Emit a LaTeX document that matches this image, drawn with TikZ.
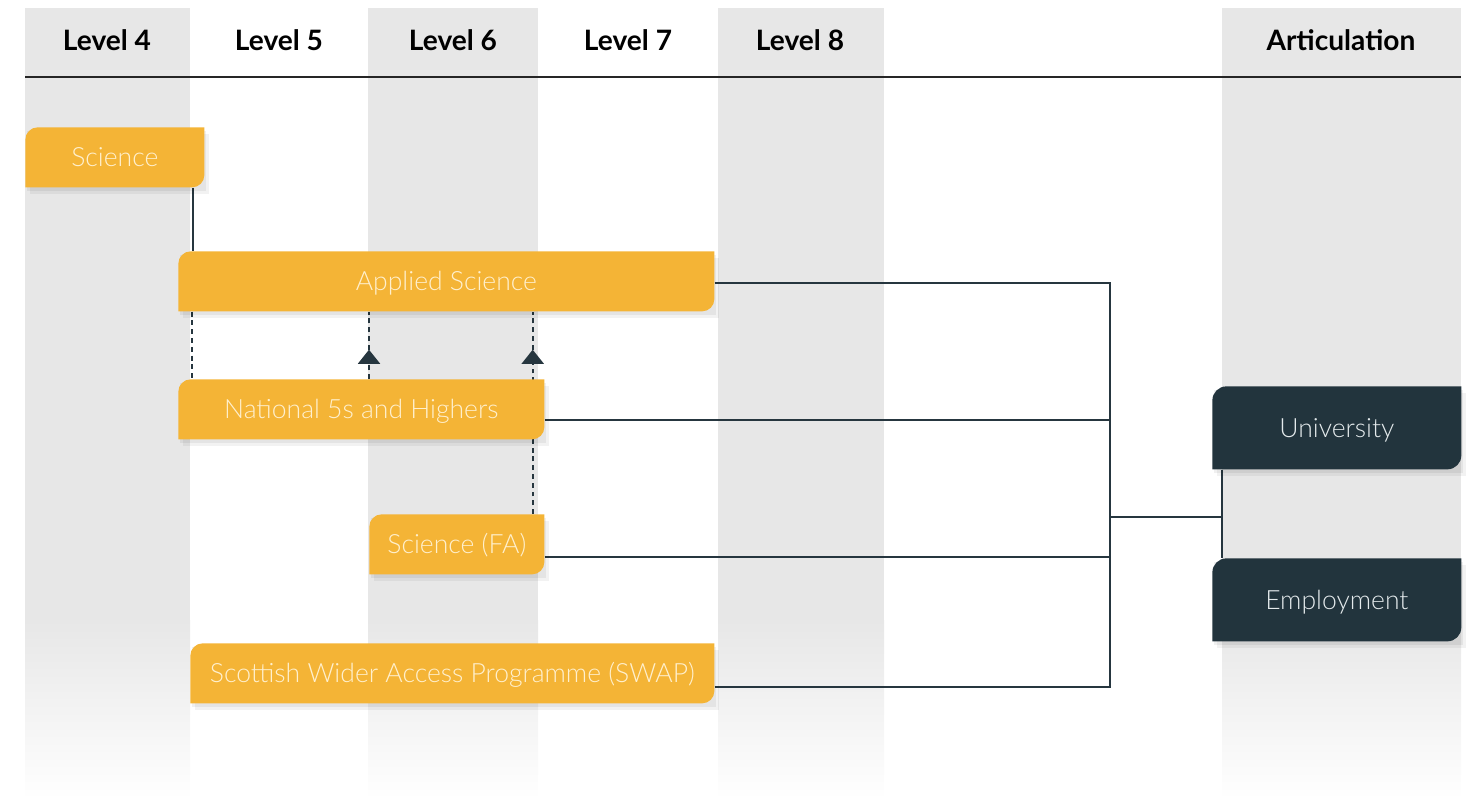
\documentclass[tikz,border=0pt]{standalone}
\usepackage{fontspec}
\setmainfont{Lato}
\newfontfamily\lightfont{Lato Light}
\usepackage{xcolor}
\usepackage{tikz}
\usetikzlibrary{calc, arrows.meta, backgrounds}

\definecolor{boxorange}{HTML}{F4B436}
\definecolor{boxtext}{HTML}{FFF0CE}
\definecolor{boxdark}{HTML}{22343D}
\definecolor{darktext}{HTML}{E4EAEC}
\definecolor{band}{HTML}{E7E7E7}
\definecolor{linkcol}{HTML}{26363F}

\newlength\pxu
\setlength\pxu{0.02cm}

\begin{document}
\begin{tikzpicture}[x=0.02cm, y=-0.02cm,
  head/.style={font=\fontsize{16}{19}\selectfont\bfseries, text=black},
  card/.style={anchor=north west, inner sep=0pt, minimum width=#1*\pxu,
    text=boxtext, font=\lightfont\fontsize{15.1}{18}\selectfont,
    text height=10.9pt, text depth=0pt,
    preaction={fill=black, fill opacity=0.05, transform canvas={xshift=2.5pt, yshift=-3.5pt}},
    preaction={fill=black, fill opacity=0.06, transform canvas={xshift=1.2pt, yshift=-1.8pt}},
    path picture={
      \fill[boxorange] (path picture bounding box.south west)
      -- ([yshift=-7pt]path picture bounding box.north west)
      arc[start angle=180, end angle=90, radius=7pt]
      -- (path picture bounding box.north east)
      -- ([yshift=7pt]path picture bounding box.south east)
      arc[start angle=0, end angle=-90, radius=7pt] -- cycle;}},
  card/.default=100,
  ybox/.style={card=#1, minimum height=60*\pxu},
  dbox/.style={card=#1, minimum height=83*\pxu, text=darktext,
    path picture={
      \fill[boxdark] (path picture bounding box.south west)
      -- ([yshift=-8pt]path picture bounding box.north west)
      arc[start angle=180, end angle=90, radius=8pt]
      -- (path picture bounding box.north east)
      -- ([yshift=8pt]path picture bounding box.south east)
      arc[start angle=0, end angle=-90, radius=8pt] -- cycle;}},
  link/.style={draw=linkcol, line width=1.1pt},
  dashlink/.style={draw=linkcol, line width=1.1pt, dash pattern=on 2.8pt off 2.2pt},
  tip/.style={-{Triangle[width=12.5pt, length=8pt]}}]

  \useasboundingbox (0,0) rectangle (1481,795);

  % headers
  \node[head] (lv4) at (107,40) {Level 4};
  \node[head] (lv5) at (279,40) {Level 5};
  \node[head] (lv6) at (453,40) {Level 6};
  \node[head] (lv7) at (628,40) {Level 7};
  \node[head] (lv8) at (800,40) {Level 8};
  \node[head] (artic) at (1341,40) {Articulation};
  \draw[line width=0.7pt, black!85] (25,77) -- (1461,77);

  % courses
  \node[ybox=179] (science) at (25,127) {Science};
  \node[ybox=536] (apsci) at (178,251) {Applied Science};
  \node[ybox=366] (nat) at (178,379) {National 5s and Highers};
  \node[ybox=175] (fa) at (369,514) {Science (FA)};
  \node[ybox=524] (swap) at (190,643) {Scottish Wider Access Programme (SWAP)};
  \node[dbox=249] (uni) at (1212,386) {University};
  \node[dbox=249] (emp) at (1212,558) {Employment};

  \begin{scope}[on background layer]
    \foreach \xa/\xb in {25/190, 368/538, 718/884, 1222/1461} {
      \fill[band] (\xa,8) rectangle (\xb,620);
      \shade[top color=band, bottom color=white!97!band] (\xa,620) rectangle (\xb,795);
    }

    \coordinate (bus) at (1110,517);
    \coordinate (join) at ($(uni.south west)+(10,0)$);
    \coordinate (drop) at ($(science.south east)+(-12,0)$);
    \coordinate (side) at ($(apsci.south west)+(14,0)$);
    \coordinate (up) at ($(fa.north east)+(-12,0)$);
    \coordinate (mid) at ($(apsci.south)+(0,38)$);

    \draw[link] (drop) -- (drop |- apsci.north);
    \draw[dashlink] (side) -- (side |- nat.north);
    \draw[dashlink, tip] (nat.north -| fa.north west) -- (mid -| fa.north west);
    \draw[dashlink] (mid -| fa.north west) -- (apsci.south -| fa.north west);
    \draw[dashlink, tip] (up) -- (mid -| up);
    \draw[dashlink] (mid -| up) -- (apsci.south -| up);

    \draw[link] ($(apsci.east)+(0,2)$) -| (bus);
    \draw[link] ($(nat.east)+(0,11)$) -| (bus);
    \draw[link] ($(fa.east)+(0,13)$) -| (bus);
    \draw[link] ($(swap.east)+(0,14)$) -| (bus);
    \draw[link] (bus) -- (bus -| join);
    \draw[link] (join) -- (join |- emp.north);
  \end{scope}
\end{tikzpicture}
\end{document}
